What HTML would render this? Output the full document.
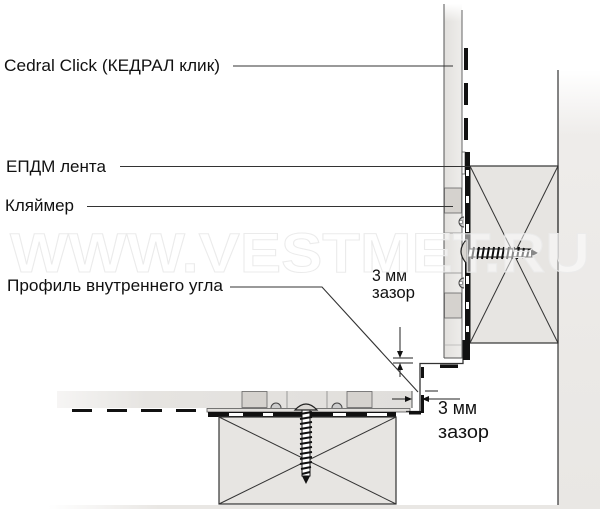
<!DOCTYPE html>
<html><head><meta charset="utf-8"><style>
html,body{margin:0;padding:0;background:#fff;}
svg{display:block;}
text{font-family:"Liberation Sans","DejaVu Sans",sans-serif;fill:#111;}
</style></head><body>
<svg width="600" height="509" viewBox="0 0 600 509" xmlns="http://www.w3.org/2000/svg">
<defs>
<linearGradient id="wallg" x1="0" y1="0" x2="0" y2="1">
<stop offset="0" stop-color="#ffffff"/><stop offset="0.15" stop-color="#eeecea"/><stop offset="1" stop-color="#e9e7e4"/>
</linearGradient>
<linearGradient id="floorg" x1="0" y1="0" x2="1" y2="0">
<stop offset="0" stop-color="#ffffff"/><stop offset="0.2" stop-color="#e9e7e4"/><stop offset="1" stop-color="#e9e7e4"/>
</linearGradient>
<linearGradient id="vpan" x1="0" y1="0" x2="1" y2="0">
<stop offset="0" stop-color="#e2e0dd"/><stop offset="1" stop-color="#eeedeb"/>
</linearGradient>
<linearGradient id="vpantop" x1="0" y1="0" x2="0" y2="1">
<stop offset="0" stop-color="#ffffff" stop-opacity="1"/><stop offset="0.05" stop-color="#ffffff" stop-opacity="0"/>
</linearGradient>
<linearGradient id="hpan" x1="0" y1="0" x2="1" y2="0">
<stop offset="0" stop-color="#f6f5f4"/><stop offset="0.25" stop-color="#e6e4e1"/><stop offset="1" stop-color="#e0dedb"/>
</linearGradient>
<linearGradient id="hline" x1="0" y1="0" x2="1" y2="0">
<stop offset="0" stop-color="#cccccc"/><stop offset="0.4" stop-color="#777"/><stop offset="1" stop-color="#555"/>
</linearGradient>
</defs>

<!-- wall / floor background -->
<rect x="558" y="70" width="42" height="439" fill="url(#wallg)"/>
<rect x="48" y="505" width="552" height="4" fill="url(#floorg)"/>

<!-- vertical panel -->
<rect x="444" y="4" width="18" height="354" fill="url(#vpan)"/>
<rect x="444" y="4" width="18" height="354" fill="url(#vpantop)"/>
<line x1="444" y1="4" x2="444" y2="358" stroke="#555" stroke-width="1"/>
<line x1="462" y1="10" x2="462" y2="358" stroke="#666" stroke-width="1"/>
<line x1="444" y1="358" x2="463" y2="358" stroke="#555" stroke-width="1"/>
<rect x="444.5" y="188" width="17" height="25" fill="#d5d2ce" stroke="#666" stroke-width="0.8"/>
<rect x="444.5" y="293" width="17" height="25" fill="#d5d2ce" stroke="#666" stroke-width="0.8"/>
<line x1="444" y1="233" x2="462" y2="233" stroke="#888" stroke-width="0.8"/>
<line x1="444" y1="273" x2="462" y2="273" stroke="#888" stroke-width="0.8"/>
<line x1="444" y1="345" x2="462" y2="345" stroke="#999" stroke-width="0.6"/>
<rect x="462" y="152" width="3" height="22" fill="#fff" stroke="#555" stroke-width="0.8"/>
<path d="M464 217 A5 5 0 0 0 464 227" fill="#ccc" stroke="#444" stroke-width="1"/>
<circle cx="461" cy="222" r="1.8" fill="#fff" stroke="#555" stroke-width="0.7"/>
<path d="M464 278 A5 5 0 0 0 464 288" fill="#ccc" stroke="#444" stroke-width="1"/>
<circle cx="461" cy="283" r="1.8" fill="#fff" stroke="#555" stroke-width="0.7"/>

<!-- vertical dashes -->
<rect x="464" y="48" width="4" height="22" fill="#111"/>
<rect x="464" y="83" width="4" height="22" fill="#111"/>
<rect x="464" y="118" width="4" height="22" fill="#111"/>

<!-- vertical batten -->
<rect x="470" y="166" width="88" height="177" fill="#e7e5e2" stroke="#333" stroke-width="1.2"/>
<line x1="470" y1="166" x2="558" y2="343" stroke="#333" stroke-width="1"/>
<line x1="558" y1="166" x2="470" y2="343" stroke="#333" stroke-width="1"/>

<!-- EPDM vertical strip -->
<rect x="465" y="152" width="5" height="208" fill="#111"/>
<g fill="#fff">
<rect x="466" y="170" width="3" height="6"/>
<rect x="466" y="196" width="3" height="7"/>
<rect x="466" y="224" width="3" height="8"/>
<rect x="466" y="276" width="3" height="8"/>
<rect x="466" y="302" width="3" height="7"/>
<rect x="466" y="326" width="3" height="6"/>
</g>

<!-- wall line -->
<line x1="558" y1="70" x2="558" y2="505" stroke="#333" stroke-width="1.2"/>
<line x1="48" y1="505" x2="558" y2="505" stroke="url(#hline)" stroke-width="1.2"/>

<!-- vertical screw -->
<rect x="466" y="249" width="66" height="8" fill="#fff" stroke="#111" stroke-width="1"/>
<g stroke="#111" stroke-width="2">
<line x1="469" y1="247" x2="467" y2="259"/><line x1="474" y1="247" x2="472" y2="259"/><line x1="479" y1="247" x2="477" y2="259"/>
<line x1="484" y1="247" x2="482" y2="259"/><line x1="489" y1="247" x2="487" y2="259"/><line x1="494" y1="247" x2="492" y2="259"/>
<line x1="499" y1="247" x2="497" y2="259"/><line x1="504" y1="247" x2="502" y2="259"/><line x1="509" y1="247" x2="507" y2="259"/>
<line x1="514" y1="247" x2="512" y2="259"/><line x1="519" y1="247" x2="517" y2="259"/><line x1="524" y1="248" x2="522" y2="258"/>
<line x1="529" y1="249" x2="527" y2="257"/>
</g>
<path d="M531 249 L538 253 L531 257 Z" fill="#111"/>
<path d="M467 239 Q455 251 467 264 Z" fill="#d9d6d2" stroke="#222" stroke-width="1.2"/>

<!-- horizontal panel -->
<rect x="57" y="391" width="355" height="17" fill="url(#hpan)"/>
<line x1="57" y1="391" x2="412" y2="391" stroke="url(#hline)" stroke-width="1"/>
<line x1="57" y1="408" x2="412" y2="408" stroke="url(#hline)" stroke-width="0.8"/>
<line x1="412" y1="391" x2="412" y2="408" stroke="#555" stroke-width="1"/>
<rect x="242" y="391.5" width="25" height="16" fill="#d5d2ce" stroke="#666" stroke-width="0.8"/>
<rect x="347" y="391.5" width="25" height="16" fill="#d5d2ce" stroke="#666" stroke-width="0.8"/>
<line x1="287" y1="391" x2="287" y2="408" stroke="#888" stroke-width="0.8"/>
<line x1="327" y1="391" x2="327" y2="408" stroke="#888" stroke-width="0.8"/>
<path d="M271 408 A5 5 0 0 1 281 408" fill="#ccc" stroke="#444" stroke-width="1"/>
<path d="M332 408 A5 5 0 0 1 342 408" fill="#ccc" stroke="#444" stroke-width="1"/>

<!-- left dashes under horizontal panel -->
<rect x="72" y="409" width="20" height="3" fill="#111"/>
<rect x="107" y="409" width="20" height="3" fill="#111"/>
<rect x="141" y="409" width="21" height="3" fill="#111"/>
<rect x="176" y="409" width="20" height="3" fill="#111"/>

<!-- base plate & EPDM horizontal -->
<rect x="207" y="408.5" width="203" height="3.5" fill="#e2e0dd" stroke="#555" stroke-width="0.8"/>
<rect x="208" y="412" width="188" height="5" fill="#111"/>
<g fill="#fff">
<rect x="229" y="413" width="14" height="3"/>
<rect x="263" y="413" width="10" height="3"/>
<rect x="333" y="413" width="13" height="3"/>
<rect x="367" y="413" width="20" height="3"/>
</g>

<!-- horizontal batten -->
<rect x="219" y="417" width="177" height="87" fill="#e7e5e2" stroke="#333" stroke-width="1.2"/>
<line x1="219" y1="417" x2="396" y2="504" stroke="#333" stroke-width="1"/>
<line x1="396" y1="417" x2="219" y2="504" stroke="#333" stroke-width="1"/>

<!-- horizontal screw -->
<rect x="302" y="410" width="8" height="66" fill="#fff" stroke="#111" stroke-width="1"/>
<g stroke="#111" stroke-width="2">
<line x1="300" y1="414" x2="312" y2="412"/><line x1="300" y1="419" x2="312" y2="417"/><line x1="300" y1="424" x2="312" y2="422"/>
<line x1="300" y1="429" x2="312" y2="427"/><line x1="300" y1="434" x2="312" y2="432"/><line x1="300" y1="439" x2="312" y2="437"/>
<line x1="300" y1="444" x2="312" y2="442"/><line x1="300" y1="449" x2="312" y2="447"/><line x1="300" y1="454" x2="312" y2="452"/>
<line x1="300" y1="459" x2="312" y2="457"/><line x1="300" y1="464" x2="312" y2="462"/><line x1="301" y1="469" x2="311" y2="467"/>
<line x1="302" y1="474" x2="310" y2="472"/>
</g>
<path d="M302 476 L306 484 L310 476 Z" fill="#111"/>
<path d="M295 410 Q306 398 317 410 Z" fill="#d9d6d2" stroke="#222" stroke-width="1.2"/>

<!-- corner profile -->
<path d="M463 340 L463 363.5 L420 363.5 L420 411.5 L406 411.5" fill="none" stroke="#333" stroke-width="1.3"/>
<rect x="440" y="364.5" width="18" height="3.5" fill="#111"/>
<rect x="421" y="367" width="3" height="11" fill="#111"/>
<rect x="421" y="395" width="3" height="18" fill="#111"/>
<rect x="409" y="411" width="12" height="3.5" fill="#111"/>
<rect x="463" y="340" width="3" height="20" fill="#111"/>

<!-- dimensions -->
<g stroke="#222" stroke-width="1" fill="none">
<line x1="400" y1="327" x2="400" y2="352"/>
<line x1="393" y1="358" x2="413" y2="358"/>
<line x1="393" y1="363" x2="413" y2="363"/>
<line x1="400" y1="369" x2="400" y2="377"/>
<line x1="392" y1="399" x2="406" y2="399"/>
<line x1="428" y1="399" x2="460" y2="399"/>
<line x1="425" y1="391" x2="438" y2="391"/>
</g>
<path d="M397 351 L403 351 L400 358 Z" fill="#111"/>
<path d="M397 370 L403 370 L400 363 Z" fill="#111"/>
<path d="M405 396 L405 402 L412 399 Z" fill="#111"/>
<path d="M429 396 L429 402 L422 399 Z" fill="#111"/>

<!-- leader lines -->
<g stroke="#333" stroke-width="1.1" fill="none">
<line x1="233" y1="66" x2="453" y2="66"/>
<line x1="120" y1="166.5" x2="470" y2="166.5"/>
<line x1="87" y1="206.5" x2="453" y2="206.5"/>
<polyline points="230,287 322,287 418,392"/>
</g>

<!-- labels -->
<text x="4" y="71" font-size="16.5" textLength="216" lengthAdjust="spacingAndGlyphs">Cedral Click (КЕДРАЛ клик)</text>
<text x="6" y="172" font-size="16.5" textLength="100" lengthAdjust="spacingAndGlyphs">ЕПДМ лента</text>
<text x="5" y="211" font-size="16.5" textLength="69" lengthAdjust="spacingAndGlyphs">Кляймер</text>
<text x="7" y="291" font-size="16.5" textLength="216" lengthAdjust="spacingAndGlyphs">Профиль внутреннего угла</text>
<text x="372" y="281" font-size="16.5" textLength="35" lengthAdjust="spacingAndGlyphs">3 мм</text>
<text x="372" y="298" font-size="16.5" textLength="43" lengthAdjust="spacingAndGlyphs">зазор</text>
<text x="438" y="414" font-size="18" textLength="39" lengthAdjust="spacingAndGlyphs">3 мм</text>
<text x="438" y="438" font-size="18" textLength="51" lengthAdjust="spacingAndGlyphs">зазор</text>

<!-- watermark -->
<text x="10" y="272" font-size="56" font-weight="bold" textLength="580" lengthAdjust="spacingAndGlyphs" style="fill:#ffffff;fill-opacity:0.5;stroke:#ebebeb;stroke-width:1">WWW.VESTMET.RU</text>
</svg>
</body></html>
